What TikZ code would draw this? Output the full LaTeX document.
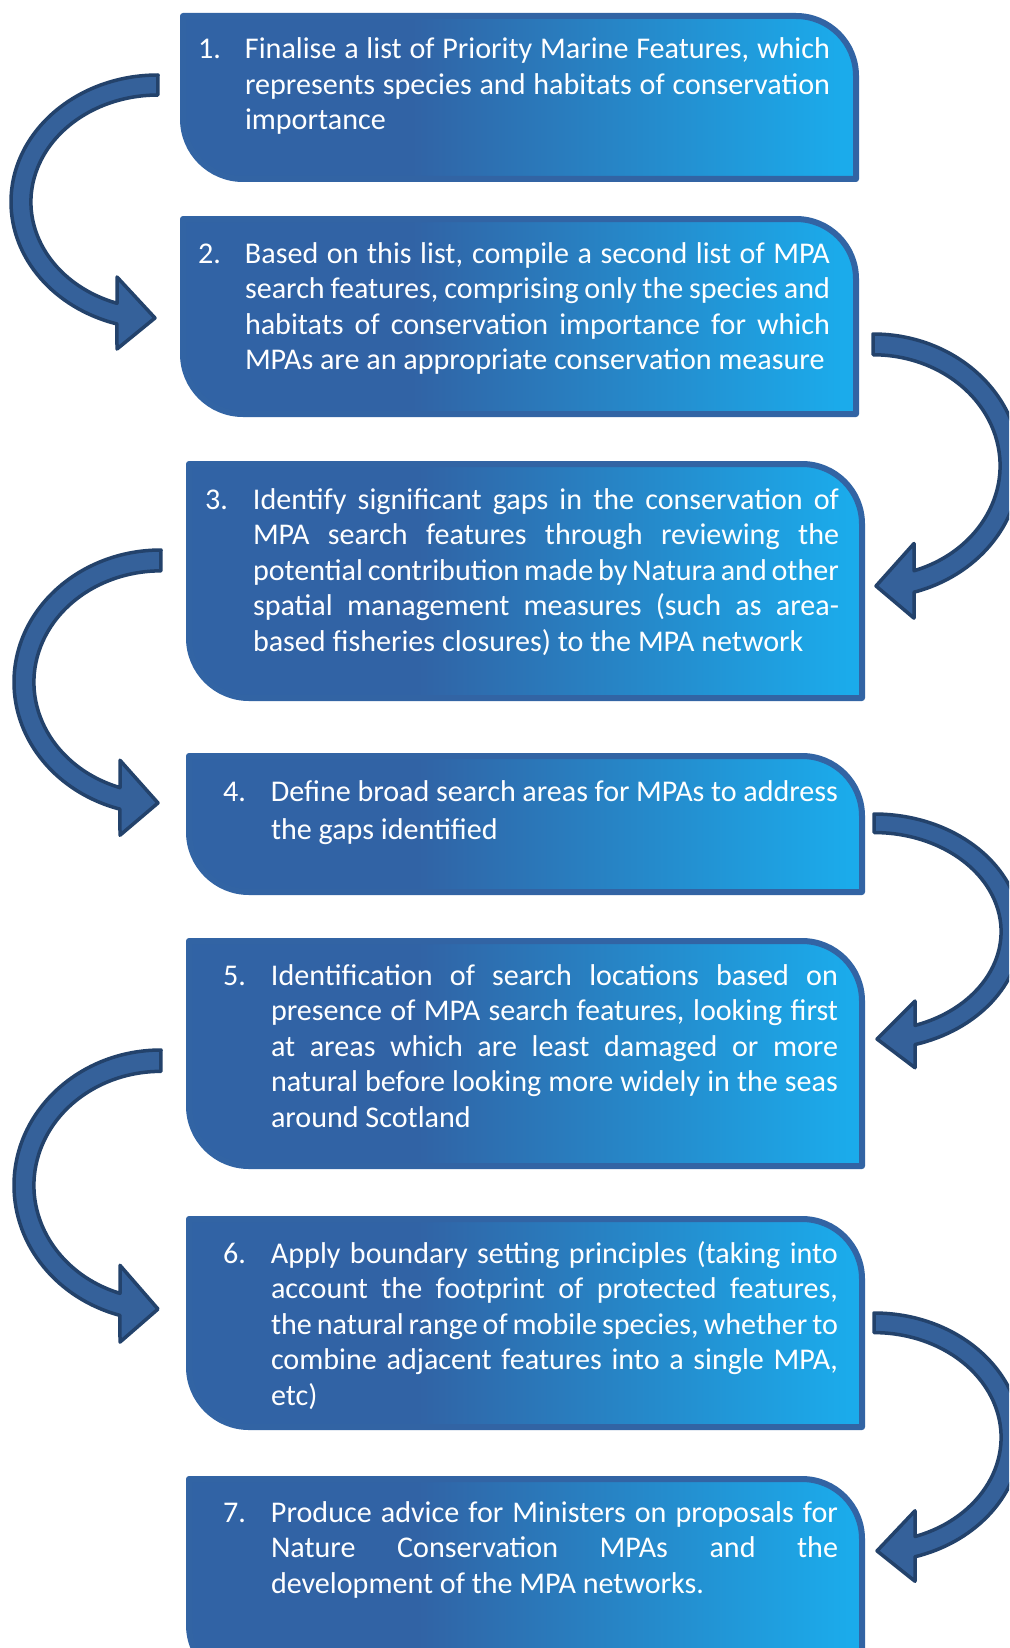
\documentclass[tikz,border=0pt]{standalone}
\usepackage{fontspec}
\setmainfont{Carlito}
\definecolor{bdark}{HTML}{3163A5}
\definecolor{blight}{HTML}{1BABEB}
\definecolor{bord}{HTML}{3264A4}
\definecolor{afill}{HTML}{35619A}
\definecolor{aline}{HTML}{23426B}
\pgfdeclarehorizontalshading{boxsh}{100bp}{color(0bp)=(bdark); color(42bp)=(bdark); color(74bp)=(blight); color(100bp)=(blight)}
\tikzset{
  boxsty/.style={shading=boxsh, draw=bord, line width=6pt, line join=round},
  arrowsty/.style={fill=afill, draw=aline, line width=3.5pt, line join=round},
  txt/.style={anchor=base west, inner sep=0pt, outer sep=0pt, text=white,
    font=\fontsize{30.1}{35.5}\selectfont},
}
\newcommand\jl[1]{\makebox[\linewidth][s]{#1}\\}
% x1 y1 x2 y2
\newcommand\stepbox[4]{%
  \path[boxsty] (#1,#2) -- ({#3-60},#2) arc[start angle=-90,end angle=0,radius=60]
    -- (#3,#4) -- ({#1+60},#4) arc[start angle=90,end angle=180,radius=60] -- cycle;}
% tail x, tail y, xscale, yscale
\newcommand\curvedarrow[4]{%
  \begin{scope}[shift={(#1,#2)}, xscale=#3, yscale=#4]
    \draw[arrowsty] (0,0) arc[start angle=270, end angle=106.2, x radius=147, y radius=127]
      -- (-41,274) -- (-3,243) -- (-41,202) -- (-41,228.3)
      arc[start angle=108.8, end angle=270, x radius=127, y radius=107] -- cycle;
  \end{scope}}
\begin{document}
\begin{tikzpicture}[x=1pt,y=-1pt]
\useasboundingbox (0,0) rectangle (1009,1648);
\clip (0,0) rectangle (1009,1648);
\fill[white] (0,0) rectangle (1009,1648);

\stepbox{183}{16}{856}{179}
\stepbox{183}{219}{856}{414}
\stepbox{189}{464}{862}{698}
\stepbox{189}{756}{862}{892}
\stepbox{189}{941}{862}{1166}
\stepbox{189}{1219}{862}{1427}
\stepbox{189}{1479}{862}{1685}

\curvedarrow{158}{75}{1}{1}
\curvedarrow{161}{550}{1}{1.041}
\curvedarrow{161}{1050}{1}{1.066}
\curvedarrow{873}{334}{-1}{1.037}
\curvedarrow{874}{814}{-1}{0.926}
\curvedarrow{874}{1313}{-1}{0.979}

\node[txt] (t1) at (198,59) {\makebox[47pt][l]{1.}\parbox[t]{585pt}{%
\jl{Finalise a list of Priority Marine Features, which}%
\jl{represents species and habitats of conservation}%
importance}};

\node[txt] (t2) at (198,263) {\makebox[47pt][l]{2.}\parbox[t]{585pt}{%
\jl{Based on this list, compile a second list of MPA}%
\jl{search features, comprising only the species and}%
\jl{habitats of conservation importance for which}%
MPAs are an appropriate conservation measure}};

\node[txt] (t3) at (205,509) {\makebox[48pt][l]{3.}\parbox[t]{586pt}{%
\jl{Identify significant gaps in the conservation of}%
\jl{MPA search features through reviewing the}%
\jl{potential contribution made by Natura and other}%
\jl{spatial management measures (such as area-}%
based fisheries closures) to the MPA network}};

\node[txt, font=\fontsize{30.1}{38}\selectfont] (t4) at (223,801) {\makebox[48pt][l]{4.}\parbox[t]{567pt}{%
\jl{Define broad search areas for MPAs to address}%
the gaps identified}};

\node[txt] (t5) at (223,985) {\makebox[48pt][l]{5.}\parbox[t]{567pt}{%
\jl{Identification of search locations based on}%
\jl{presence of MPA search features, looking first}%
\jl{at areas which are least damaged or more}%
\jl{natural before looking more widely in the seas}%
around Scotland}};

\node[txt] (t6) at (223,1263) {\makebox[48pt][l]{6.}\parbox[t]{567pt}{%
\jl{Apply boundary setting principles (taking into}%
\jl{account the footprint of protected features,}%
\jl{the natural range of mobile species, whether to}%
\jl{combine adjacent features into a single MPA,}%
etc)}};

\node[txt] (t7) at (223,1522) {\makebox[48pt][l]{7.}\parbox[t]{567pt}{%
\jl{Produce advice for Ministers on proposals for}%
\jl{Nature Conservation MPAs and the}%
development of the MPA networks.}};
\end{tikzpicture}
\end{document}
